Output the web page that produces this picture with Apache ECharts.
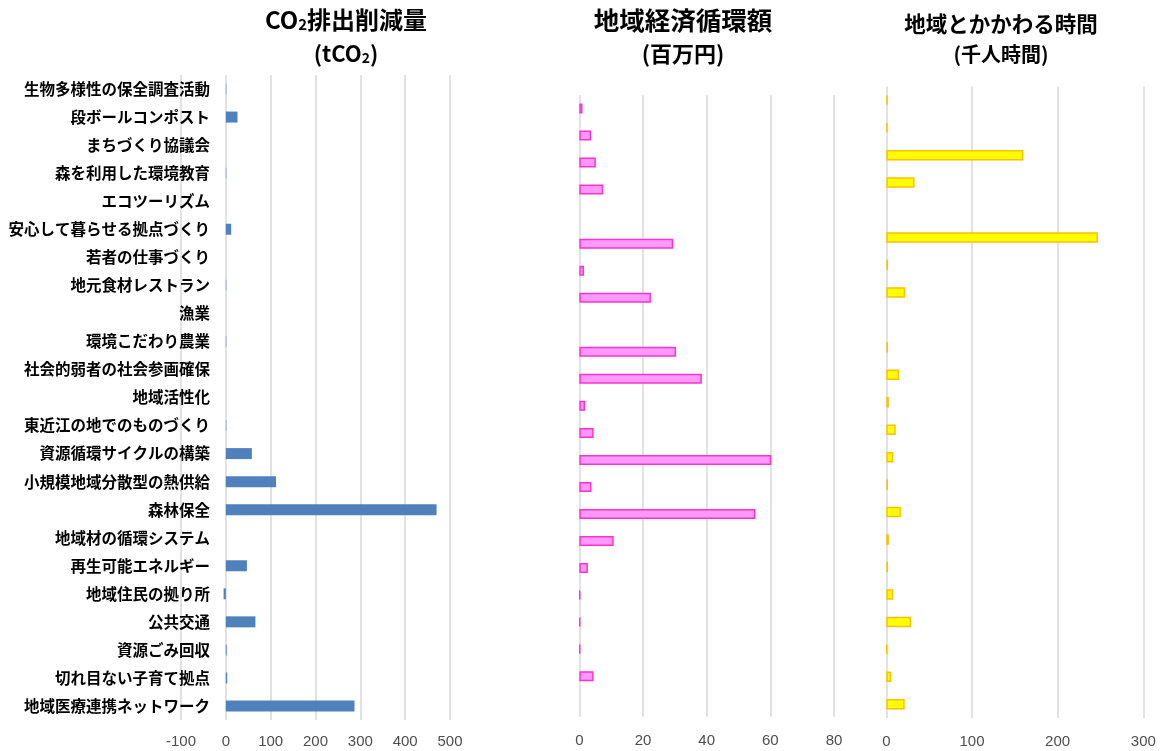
<!DOCTYPE html>
<html>
<head>
<meta charset="utf-8">
<script src="https://cdn.jsdelivr.net/npm/echarts@6/dist/echarts.min.js"></script>
<style>
  html, body { margin: 0; padding: 0; background: #fff; }
  #chart { width: 1162px; height: 751px; }
</style>
</head>
<body>
<div id="chart"></div>
<script>
// Activity categories, listed top to bottom
const categories = [
  '生物多様性の保全調査活動', '段ボールコンポスト', 'まちづくり協議会', '森を利用した環境教育',
  'エコツーリズム', '安心して暮らせる拠点づくり', '若者の仕事づくり', '地元食材レストラン',
  '漁業', '環境こだわり農業', '社会的弱者の社会参画確保', '地域活性化',
  '東近江の地でのものづくり', '資源循環サイクルの構築', '小規模地域分散型の熱供給', '森林保全',
  '地域材の循環システム', '再生可能エネルギー', '地域住民の拠り所', '公共交通',
  '資源ごみ回収', '切れ目ない子育て拠点', '地域医療連携ネットワーク'
];

// CO2 reduction (tCO2)
const co2Values = [1, 26, 0, 1, 0, 12, 0, 1, 0, 1, 0, 0, 1, 58, 112, 470, 0, 47, -5, 66, 2, 3, 287];
// Regional economic circulation (million yen)
const econValues = [1.0, 3.7, 5.2, 7.5, 0, 29.5, 1.5, 22.5, 0, 30.4, 38.5, 1.8, 4.5, 60.3, 3.8, 55.3, 10.8, 2.7, 0.3, 0.3, 0.3, 4.5, 0];
// Time involved with the region (thousand person-hours)
const timeValues = [1.5, 1.5, 160, 33, 0, 247, 2, 22, 0, 2, 15, 3, 11, 8, 2, 17, 3, 2, 8, 29, 1, 5.5, 21.5];

// Value-axis tick ranges
const co2Axis = { min: -100, max: 500, interval: 100 };
const econAxis = { min: 0, max: 80, interval: 20 };
const timeAxis = { min: 0, max: 300, interval: 100 };

const chart = echarts.init(document.getElementById('chart'));

const gridLine = { show: true, lineStyle: { color: '#d9d9d9', width: 1.5 } };
const numLabel = (margin) => ({
  color: '#4d4d4d', fontFamily: 'Liberation Sans', fontSize: 15, margin: margin
});
const jpFont = 'Noto Sans CJK JP';

// Zero entries get no bar (otherwise the outline would leave a hairline)
const barData = (arr) => arr.map(v => (v === 0 ? '-' : v));

function valueAxis(idx, range, margin) {
  return {
    type: 'value', gridIndex: idx,
    min: range.min, max: range.max, interval: range.interval,
    axisLine: { show: false }, axisTick: { show: false },
    splitLine: gridLine,
    axisLabel: numLabel(margin)
  };
}

function catAxis(idx, showLabels) {
  return {
    type: 'category', gridIndex: idx, data: categories, inverse: true,
    axisLine: { show: false, onZero: false }, axisTick: { show: false },
    axisLabel: showLabels ? {
      show: true, interval: 0, margin: -29, color: '#000',
      fontFamily: jpFont, fontWeight: 'bold', fontSize: 15.5
    } : { show: false }
  };
}

function richStyle(size) {
  return {
    fontFamily: jpFont, fontWeight: 'bold', fontSize: size, color: '#000',
    rich: {
      m: { fontFamily: jpFont, fontWeight: 'bold', fontSize: size, color: '#000' },
      s: { fontFamily: jpFont, fontWeight: 'bold', fontSize: Math.round(size * 0.62), color: '#000',
           verticalAlign: 'bottom' }
    }
  };
}

function titleItem(left, top, main, sub, size, subSize, gap) {
  return [
    { text: main, left: left, top: top, textAlign: 'center', textStyle: richStyle(size) },
    { text: sub, left: left, top: top + gap, textAlign: 'center', textStyle: richStyle(subSize) }
  ];
}

chart.setOption({
  animation: false,
  backgroundColor: '#fff',
  title: [].concat(
    titleItem(341, 3, '{m|CO}{s|2}{m|排出削減量}', '{m|(tCO}{s|2}{m|)}', 24, 22, 35),
    titleItem(678, 3, '{m|地域経済循環額}', '{m|(百万円)}', 25.5, 22, 35),
    titleItem(996, 8, '{m|地域とかかわる時間}', '{m|(千人時間)}', 21.5, 20, 31)
  ),
  grid: [
    { left: 181, width: 269, top: 75, height: 645 },
    { left: 579.3, width: 254.7, top: 95, height: 621.7 },
    { left: 886.3, width: 257, top: 86.5, height: 631.5 }
  ],
  xAxis: [
    valueAxis(0, co2Axis, 14),
    valueAxis(1, econAxis, 17),
    valueAxis(2, timeAxis, 16)
  ],
  yAxis: [catAxis(0, true), catAxis(1, false), catAxis(2, false)],
  series: [
    { type: 'bar', xAxisIndex: 0, yAxisIndex: 0, data: barData(co2Values), barWidth: 11,
      itemStyle: { color: '#4f81bd' } },
    { type: 'bar', xAxisIndex: 1, yAxisIndex: 1, data: barData(econValues), barWidth: 10,
      itemStyle: { color: '#ff99ff', borderColor: '#ff33cc', borderWidth: 1.5 } },
    { type: 'bar', xAxisIndex: 2, yAxisIndex: 2, data: barData(timeValues), barWidth: 10.5,
      itemStyle: { color: '#ffff00', borderColor: '#ffc000', borderWidth: 1.5 } }
  ]
});
</script>
</body>
</html>
